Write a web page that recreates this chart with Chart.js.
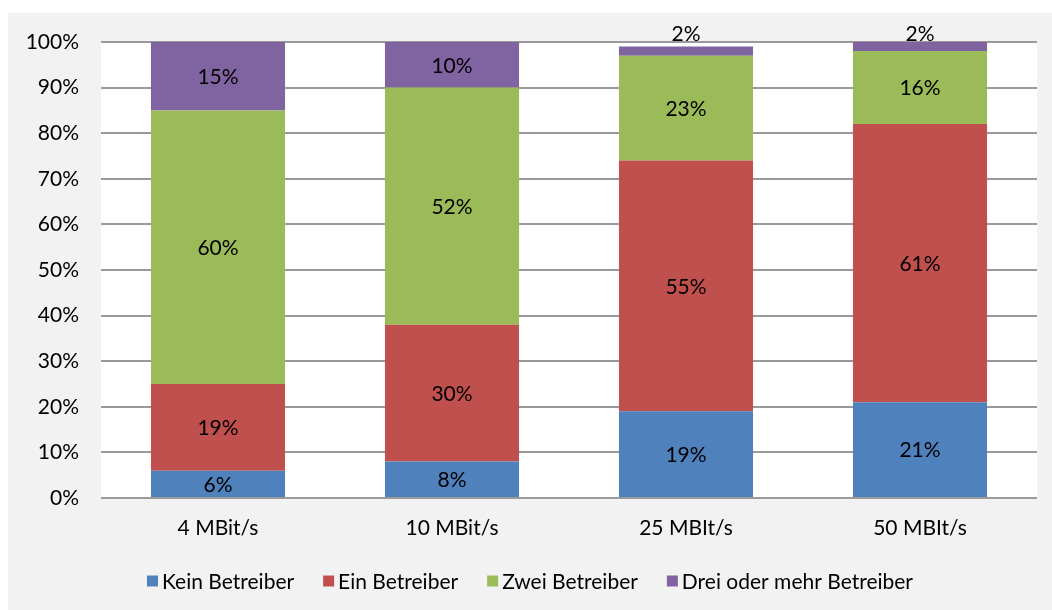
<!DOCTYPE html>
<html>
<head>
<meta charset="utf-8">
<script src="https://cdn.jsdelivr.net/npm/chart.js@4/dist/chart.umd.min.js"></script>
<style>
    body { margin: 0; background: #ffffff; }
    #frame { position: absolute; left: 8px; top: 13px; width: 1044px; height: 597px; background: #f2f2f2; }
</style>
</head>
<body>
<div id="frame"><canvas id="operators" width="1044" height="597"></canvas></div>
<script>
// Data block
const categories = ['4 MBit/s', '10 MBit/s', '25 MBIt/s', '50 MBIt/s'];
const seriesNames = ['Kein Betreiber', 'Ein Betreiber', 'Zwei Betreiber', 'Drei oder mehr Betreiber'];
const keinBetreiber = [6, 8, 19, 21];
const einBetreiber = [19, 30, 55, 61];
const zweiBetreiber = [60, 52, 23, 16];
const dreiBetreiber = [15, 10, 2, 2];
const seriesColors = ['#4f81bd', '#c0504d', '#9bbb59', '#8064a2'];

const FONT = 'Lato, "Open Sans", sans-serif';
const FONT_SIZE = 21;

// White plot area plugin
const plotBackground = {
    id: 'plotBackground',
    beforeDraw(chart) {
        const {ctx, chartArea} = chart;
        ctx.save();
        ctx.fillStyle = '#ffffff';
        ctx.fillRect(chartArea.left, chartArea.top, chartArea.right - chartArea.left, chartArea.bottom - chartArea.top);
        ctx.restore();
    }
};

// Value labels plugin (small segments go above the bar)
const segmentLabels = {
    id: 'segmentLabels',
    afterDatasetsDraw(chart) {
        const ctx = chart.ctx;
        ctx.save();
        ctx.font = FONT_SIZE + 'px ' + FONT;
        ctx.fillStyle = '#000000';
        ctx.textAlign = 'center';
        ctx.textBaseline = 'middle';
        chart.data.datasets.forEach((ds, i) => {
            chart.getDatasetMeta(i).data.forEach((bar, j) => {
                const h = Math.abs(bar.base - bar.y);
                let y = (bar.y + bar.base) / 2;
                if (h < 20) y = chart.chartArea.top - 9;
                ctx.fillText(ds.data[j] + '%', bar.x, y + 1);
            });
        });
        ctx.restore();
    }
};

// Legend plugin, centred under the chart
const bottomLegend = {
    id: 'bottomLegend',
    afterDraw(chart) {
        const ctx = chart.ctx;
        const box = 11, gap = 4, spacing = 29, cy = 568;
        ctx.save();
        ctx.font = FONT_SIZE + 'px ' + FONT;
        ctx.textBaseline = 'middle';
        const widths = chart.data.datasets.map(ds => ctx.measureText(ds.label).width);
        let total = widths.reduce((a, w) => a + box + gap + w, 0) + spacing * (widths.length - 1);
        let x = chart.width / 2 - total / 2;
        chart.data.datasets.forEach((ds, i) => {
            ctx.fillStyle = ds.backgroundColor;
            ctx.fillRect(x, cy - box / 2, box, box);
            ctx.fillStyle = '#000000';
            ctx.fillText(ds.label, x + box + gap, cy + 1);
            x += box + gap + widths[i] + spacing;
        });
        ctx.restore();
    }
};

const operatorsData = {
    labels: categories,
    datasets: [keinBetreiber, einBetreiber, zweiBetreiber, dreiBetreiber].map((values, i) => ({
        label: seriesNames[i],
        data: values,
        backgroundColor: seriesColors[i],
        borderWidth: 0,
        categoryPercentage: 1,
        barPercentage: 0.573
    }))
};

const operatorsConfig = {
    type: 'bar',
    data: operatorsData,
    options: {
        responsive: false,
        animation: false,
        layout: { padding: { left: 0, right: 15, top: 29, bottom: 69 } },
        plugins: {
            legend: { display: false },
            tooltip: { enabled: false }
        },
        scales: {
            x: {
                stacked: true,
                grid: { display: false, drawTicks: false },
                border: { display: false },
                ticks: { color: '#000000', font: { family: FONT, size: FONT_SIZE }, padding: 18 },
                afterFit(scale) { scale.height = 43; }
            },
            y: {
                stacked: true,
                min: 0,
                max: 100,
                grid: { color: '#9a9a9a', lineWidth: 2, drawTicks: false },
                border: { display: false },
                ticks: {
                    stepSize: 10,
                    color: '#000000',
                    font: { family: FONT, size: FONT_SIZE },
                    padding: 22,
                    callback: v => v + '%'
                },
                // fixed width, and keep the tick padding from pushing the plot down
                afterFit(scale) {
                    scale.width = 93;
                    scale.paddingTop = 0;
                    scale.paddingBottom = 0;
                }
            }
        }
    },
    plugins: [plotBackground, segmentLabels, bottomLegend]
};

const operatorsChart = new Chart(document.getElementById('operators'), operatorsConfig);
</script>
</body>
</html>
